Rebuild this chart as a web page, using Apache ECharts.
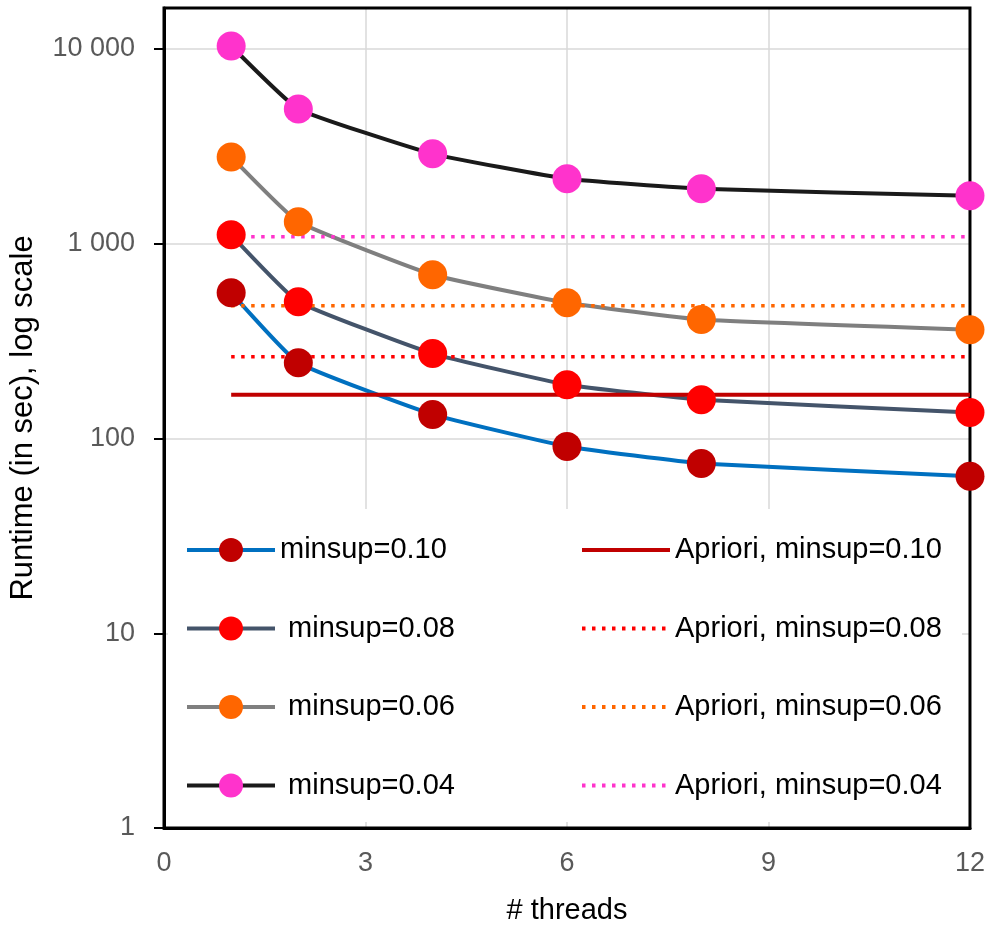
<!DOCTYPE html>
<html>
<head>
<meta charset="utf-8">
<script src="https://cdn.jsdelivr.net/npm/echarts@6/dist/echarts.min.js"></script>
<style>
  html, body { margin: 0; padding: 0; background: #fff; }
  #main { width: 988px; height: 930px; }
</style>
</head>
<body>
<div id="main"></div>
<script>
var threads = [1, 2, 4, 6, 8, 12];
var minsup10 = [561, 245, 133, 91, 74.5, 64];
var minsup08 = [1112, 504, 273, 189, 158, 136];
var minsup06 = [2793, 1297, 693, 498, 408, 362];
var minsup04 = [10360, 4925, 2896, 2155, 1915, 1763];
// Apriori runtimes do not depend on the thread count
var apriori10 = 168;
var apriori08 = 263;
var apriori06 = 481;
var apriori04 = 1086;
var yTicks = [1, 10, 100, 1000, 10000];

var myChart = echarts.init(document.getElementById('main'));

function pairs(vals) {
  return threads.map(function (t, i) { return [t, vals[i]]; });
}
function flat(v) {
  return [[threads[0], v], [threads[threads.length - 1], v]];
}
function fmt(v) {
  return String(Math.round(v)).replace(/\B(?=(\d{3})+(?!\d))/g, ' ');
}

var fontMain = 'Liberation Sans, Arial, sans-serif';

function runSeries(name, data, lineColor, dotColor) {
  return {
    name: name,
    type: 'line',
    data: pairs(data),
    smooth: 0.12,
    symbol: 'circle',
    symbolSize: 29,
    lineStyle: { color: lineColor, width: 4 },
    itemStyle: { color: dotColor },
    emphasis: { disabled: true }
  };
}
function aprioriSeries(name, v, color, dotted) {
  return {
    name: name,
    type: 'line',
    data: flat(v),
    symbol: 'none',
    lineStyle: { color: color, width: dotted ? 3.5 : 4, type: dotted ? [3.5, 6.5] : 'solid' },
    itemStyle: { color: color },
    emphasis: { disabled: true }
  };
}

var leftNames = ['minsup=0.10', ' minsup=0.08', ' minsup=0.06', ' minsup=0.04'];
var rightNames = ['Apriori, minsup=0.10', 'Apriori, minsup=0.08', 'Apriori, minsup=0.06', 'Apriori, minsup=0.04'];

var legendBase = {
  orient: 'vertical',
  top: 535,
  itemWidth: 88,
  itemHeight: 30,
  itemGap: 48.5,
  padding: 0,
  selectedMode: false,
  lineStyle: { width: 4 },
  textStyle: { fontFamily: fontMain, fontSize: 29, color: '#000', lineHeight: 30 }
};

var option = {
  animation: false,
  backgroundColor: '#fff',
  grid: {
    left: 157, right: 17, top: 8, bottom: 102,
    show: true, borderColor: '#000', borderWidth: 3, z: 3
  },
  graphic: [{
    type: 'rect',
    z: 1,
    shape: { x: 168, y: 509, width: 794, height: 313 },
    style: { fill: '#fff' }
  }],
  legend: [
    Object.assign({}, legendBase, { left: 185, data: leftNames }),
    Object.assign({}, legendBase, {
      left: 580,
      data: rightNames.map(function (n) { return { name: n, itemStyle: { opacity: 0 } }; })
    })
  ],
  xAxis: {
    type: 'value',
    min: 0, max: 12, interval: 3,
    name: '# threads',
    nameLocation: 'middle',
    nameGap: 68,
    nameTextStyle: { fontFamily: fontMain, fontSize: 29, color: '#000' },
    axisLine: { lineStyle: { color: '#000', width: 3 } },
    axisTick: { show: false },
    axisLabel: { fontFamily: fontMain, fontSize: 27, color: '#595959', margin: 22 },
    splitLine: { show: true, lineStyle: { color: '#d9d9d9', width: 1.5 } }
  },
  yAxis: {
    type: 'log',
    logBase: 10,
    min: 1, max: 16240,
    name: 'Runtime (in sec), log scale',
    nameLocation: 'middle',
    nameGap: 125,
    nameTextStyle: { fontFamily: fontMain, fontSize: 31, color: '#000' },
    axisLine: { show: true, lineStyle: { color: '#000', width: 3 } },
    axisTick: { show: true, inside: false, length: 10, customValues: yTicks, lineStyle: { color: '#000', width: 2 } },
    axisLabel: {
      customValues: yTicks,
      fontFamily: fontMain, fontSize: 27, color: '#595959', margin: 29,
      formatter: function (v) { return fmt(v); }
    },
    splitLine: { show: true, lineStyle: { color: '#d9d9d9', width: 1.5 } }
  },
  series: [
    runSeries('minsup=0.10', minsup10, '#0070c0', '#c00000'),
    runSeries(' minsup=0.08', minsup08, '#44546a', '#ff0000'),
    runSeries(' minsup=0.06', minsup06, '#7f7f7f', '#ff6600'),
    runSeries(' minsup=0.04', minsup04, '#1a1a1a', '#ff33cc'),
    aprioriSeries('Apriori, minsup=0.10', apriori10, '#c00000', false),
    aprioriSeries('Apriori, minsup=0.08', apriori08, '#ff0000', true),
    aprioriSeries('Apriori, minsup=0.06', apriori06, '#ff6600', true),
    aprioriSeries('Apriori, minsup=0.04', apriori04, '#ff33cc', true)
  ]
};
myChart.setOption(option);
</script>
</body>
</html>
